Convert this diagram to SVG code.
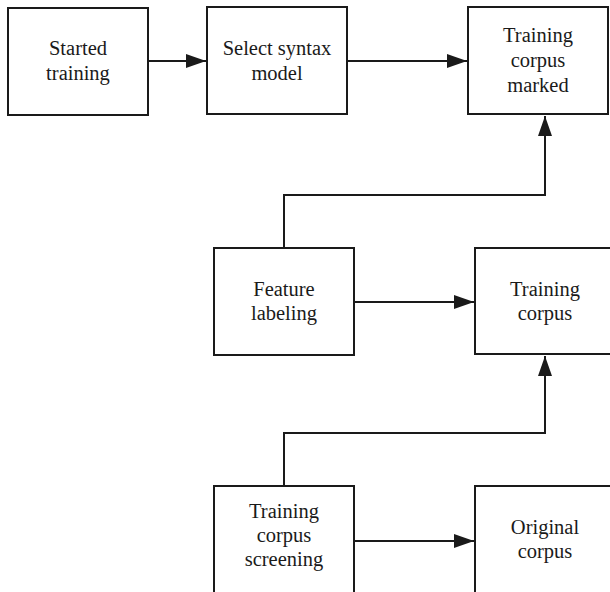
<svg xmlns="http://www.w3.org/2000/svg" width="610" height="592" viewBox="0 0 610 592">
  <style>
    .box { fill: #ffffff; stroke: #1a1a1a; stroke-width: 2; }
    .lbl { font-family: "Liberation Serif", "Times New Roman", serif; font-size: 20.5px; fill: #1a1a1a; text-anchor: middle; }
    .edge { fill: none; stroke: #1a1a1a; stroke-width: 2; }
  </style>
  <defs>
    <marker id="arrow" markerUnits="userSpaceOnUse" markerWidth="20" markerHeight="14" viewBox="0 0 20 14" refX="20" refY="7" orient="auto">
      <path d="M0,0 L20,7 L0,14 Z" fill="#1a1a1a"/>
    </marker>
  </defs>
  <rect width="610" height="592" fill="#ffffff"/>

  <g id="connectors">
    <path class="edge" d="M148,61 L206,61" marker-end="url(#arrow)"/>
    <path class="edge" d="M347,61 L467,61" marker-end="url(#arrow)"/>
    <path class="edge" d="M284,248 L284,195 L545,195 L545,116" marker-end="url(#arrow)"/>
    <path class="edge" d="M354,302 L474,302" marker-end="url(#arrow)"/>
    <path class="edge" d="M284,486 L284,433 L545,433 L545,356" marker-end="url(#arrow)"/>
    <path class="edge" d="M354,541 L474,541" marker-end="url(#arrow)"/>
  </g>

  <g id="started-training">
    <rect class="box" x="8" y="8" width="140" height="107"/>
    <text class="lbl" x="78" y="55">Started</text>
    <text class="lbl" x="78" y="80">training</text>
  </g>

  <g id="select-syntax-model">
    <rect class="box" x="207" y="7" width="140" height="107"/>
    <text class="lbl" x="277" y="55">Select syntax</text>
    <text class="lbl" x="277" y="80">model</text>
  </g>

  <g id="training-corpus-marked">
    <rect class="box" x="468" y="7" width="140" height="107"/>
    <text class="lbl" x="538" y="42">Training</text>
    <text class="lbl" x="538" y="67">corpus</text>
    <text class="lbl" x="538" y="92">marked</text>
  </g>

  <g id="feature-labeling">
    <rect class="box" x="214" y="248" width="140" height="107"/>
    <text class="lbl" x="284" y="296">Feature</text>
    <text class="lbl" x="284" y="320">labeling</text>
  </g>

  <g id="training-corpus">
    <rect class="box" x="475" y="248" width="140" height="106"/>
    <text class="lbl" x="545" y="296">Training</text>
    <text class="lbl" x="545" y="320">corpus</text>
  </g>

  <g id="training-corpus-screening">
    <rect class="box" x="214" y="486" width="140" height="110"/>
    <text class="lbl" x="284" y="518">Training</text>
    <text class="lbl" x="284" y="542">corpus</text>
    <text class="lbl" x="284" y="566">screening</text>
  </g>

  <g id="original-corpus">
    <rect class="box" x="475" y="486" width="140" height="110"/>
    <text class="lbl" x="545" y="534">Original</text>
    <text class="lbl" x="545" y="558">corpus</text>
  </g>
</svg>
